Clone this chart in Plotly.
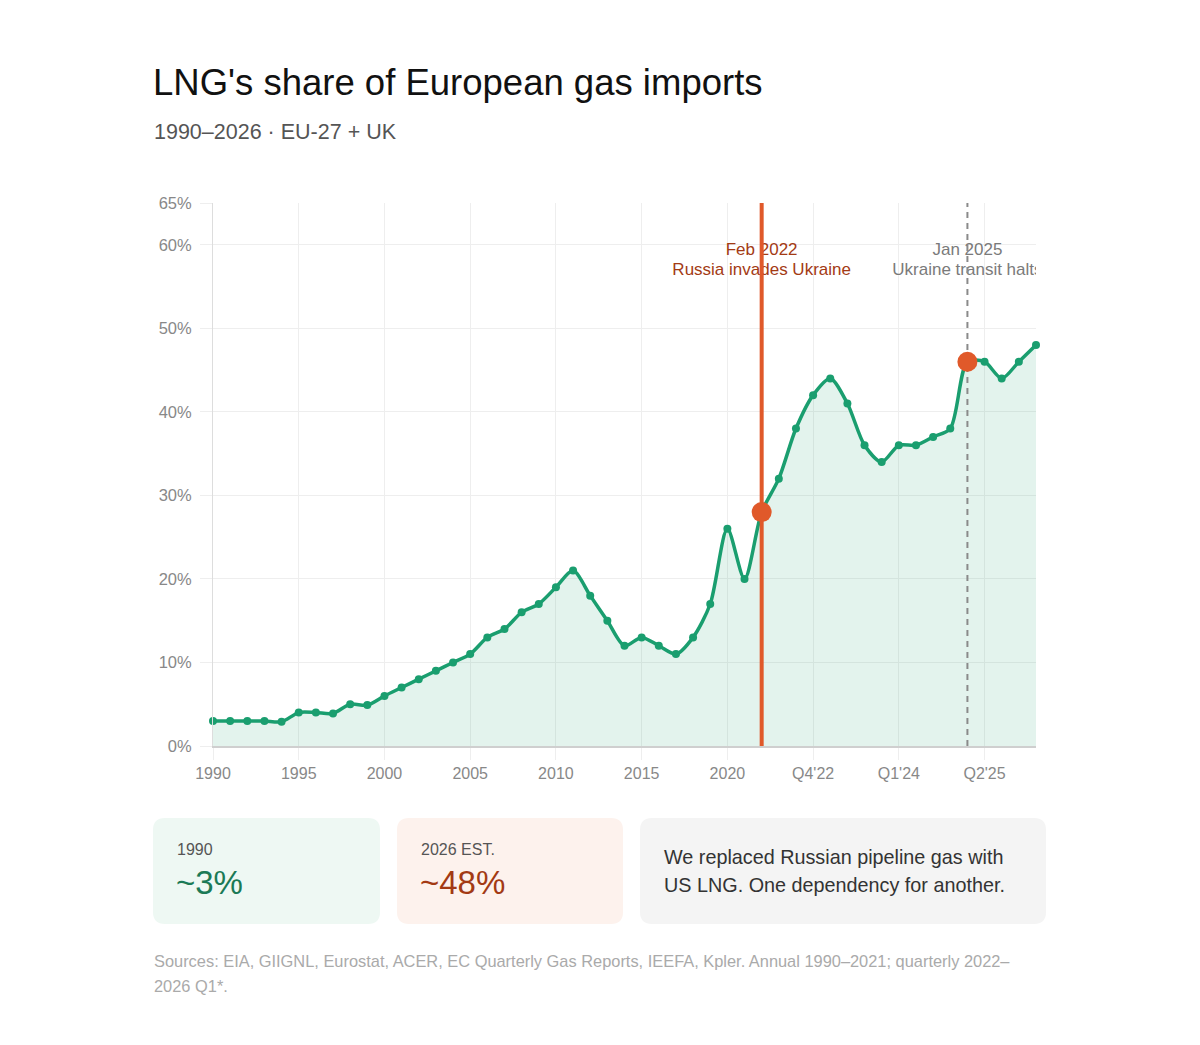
import plotly.graph_objects as go

# ---- data -----------------------------------------------------------------
ANNUAL_YEARS = [str(y) for y in range(1990, 2022)]
QUARTERS = ["Q1'22", "Q2'22", "Q3'22", "Q4'22",
            "Q1'23", "Q2'23", "Q3'23", "Q4'23",
            "Q1'24", "Q2'24", "Q3'24", "Q4'24",
            "Q1'25", "Q2'25", "Q3'25", "Q4'25",
            "Q1'26"]
PERIODS = ANNUAL_YEARS + QUARTERS

# LNG share of EU-27 + UK gas imports, %
SHARE_ANNUAL = [3, 3, 3, 3, 2.9, 4, 4, 3.9, 5, 4.9,
                6, 7, 8, 9, 10, 11, 13, 14, 16, 17,
                19, 21, 18, 15, 12, 13, 12, 11, 13, 17,
                26, 20]
SHARE_QUARTERLY = [28, 32, 38, 42,
                   44, 41, 36, 34,
                   36, 36, 37, 38,
                   46, 46, 44, 46,
                   48]
SHARE = SHARE_ANNUAL + SHARE_QUARTERLY

X_TICKS = ["1990", "1995", "2000", "2005", "2010", "2015", "2020",
           "Q4'22", "Q1'24", "Q2'25"]
Y_TICKS = [0, 10, 20, 30, 40, 50, 60, 65]

EVENT_PERIODS = ["Q1'22", "Q1'25"]
EVENT_DATES = ["Feb 2022", "Jan 2025"]
EVENT_NOTES = ["Russia invades Ukraine", "Ukraine transit halts"]

GREEN = "#1a9e6f"
ORANGE = "#e0592a"
DARK_RED = "#a33a14"
FONT = "Liberation Sans, Arial, Helvetica, sans-serif"

# page is 1200 x 1045, the html body adds an 8px margin
OFF = 8
W, H = 1200 - 2 * OFF, 1045 - 2 * OFF
# plot area in page pixels
PL, PR, PT, PB = 213, 1036, 203, 746


def px_x(p):
    return (p - PL) / (PR - PL)


def px_y(p):
    return (PB - p) / (PB - PT)


def rounded_box(x0, y0, x1, y1, r):
    pts = [
        ("M", [(x0 + r, y0)]), ("L", [(x1 - r, y0)]), ("Q", [(x1, y0), (x1, y0 + r)]),
        ("L", [(x1, y1 - r)]), ("Q", [(x1, y1), (x1 - r, y1)]),
        ("L", [(x0 + r, y1)]), ("Q", [(x0, y1), (x0, y1 - r)]),
        ("L", [(x0, y0 + r)]), ("Q", [(x0, y0), (x0 + r, y0)]),
    ]
    out = []
    for cmd, coords in pts:
        out.append(cmd + " " + " ".join(f"{px_x(a):.5f},{px_y(b):.5f}" for a, b in coords))
    return " ".join(out) + " Z"


fig = go.Figure()

# event labels (drawn first so the event lines sit on top of them)
label_colors = [DARK_RED, "#7a7a7a"]
for period, date, note_text, color in zip(EVENT_PERIODS, EVENT_DATES, EVENT_NOTES, label_colors):
    fig.add_trace(go.Scatter(
        x=[period, period], y=[59.25, 56.85], mode="text", text=[date, note_text],
        textfont=dict(family=FONT, size=17, color=color),
        hoverinfo="skip", cliponaxis=True,
    ))

# main series
fig.add_trace(go.Scatter(
    x=PERIODS, y=SHARE, mode="lines+markers",
    line=dict(color=GREEN, width=3.5, shape="spline", smoothing=0.8),
    marker=dict(color=GREEN, size=8),
    fill="tozeroy", fillcolor="rgba(26,158,111,0.12)",
    hovertemplate="%{x}: %{y}%<extra></extra>",
    cliponaxis=False,
))

# event lines
fig.add_trace(go.Scatter(
    x=[EVENT_PERIODS[0], EVENT_PERIODS[0]], y=[Y_TICKS[0], Y_TICKS[-1]],
    mode="lines", line=dict(color=ORANGE, width=4), hoverinfo="skip",
))
fig.add_trace(go.Scatter(
    x=[EVENT_PERIODS[1], EVENT_PERIODS[1]], y=[Y_TICKS[0], Y_TICKS[-1]],
    mode="lines", line=dict(color="#8a8a8a", width=2, dash="6px,5px"), hoverinfo="skip",
))

# highlighted event points
fig.add_trace(go.Scatter(
    x=EVENT_PERIODS, y=[SHARE[PERIODS.index(p)] for p in EVENT_PERIODS],
    mode="markers", marker=dict(color=ORANGE, size=20),
    hovertemplate="%{x}: %{y}%<extra></extra>", cliponaxis=False,
))

# cards
cards = [
    (153, 380, "#eef8f3"),
    (397, 623, "#fdf2ed"),
    (640, 1046, "#f4f4f4"),
]
shapes = []
for x0, x1, color in cards:
    shapes.append(dict(type="path", xref="paper", yref="paper",
                       path=rounded_box(x0, 818, x1, 924, 12),
                       fillcolor=color, line=dict(width=0), layer="below"))


def note(text, x, y, size, color, xanchor="left"):
    return dict(text=text, x=px_x(x), y=px_y(y), xref="paper", yref="paper",
                xanchor=xanchor, yanchor="middle", showarrow=False, align="left",
                font=dict(family=FONT, size=size, color=color))


annotations = [
    note("LNG's share of European gas imports", 151, 82, 36.5, "#111111"),
    note("1990–2026 · EU-27 + UK", 152, 132, 21.5, "#555555"),
    note("1990", 175, 849, 16, "#555555"),
    note("~3%", 174, 882, 33, "#1b7a56"),
    note("2026 EST.", 419, 849, 16, "#555555"),
    note("~48%", 418, 882, 33, DARK_RED),
    note("We replaced Russian pipeline gas with", 662, 857, 19.8, "#333333"),
    note("US LNG. One dependency for another.", 662, 885, 19.8, "#333333"),
    note("Sources: EIA, GIIGNL, Eurostat, ACER, EC Quarterly Gas Reports, IEEFA, Kpler. "
         "Annual 1990–2021; quarterly 2022–", 152, 961, 16.4, "#aaaaaa"),
    note("2026 Q1*.", 152, 986, 16.4, "#aaaaaa"),
]

fig.update_layout(
    width=W, height=H,
    margin=dict(l=PL - OFF, r=W - (PR - OFF), t=PT - OFF, b=H - (PB - OFF)),
    paper_bgcolor="white", plot_bgcolor="white",
    showlegend=False,
    font=dict(family=FONT, size=16, color="#888888"),
    shapes=shapes, annotations=annotations,
    xaxis=dict(
        type="category", categoryorder="array", categoryarray=PERIODS,
        range=[0, len(PERIODS) - 1],
        tickmode="array", tickvals=X_TICKS, ticktext=X_TICKS,
        showgrid=True, gridcolor="#eeeeee", gridwidth=1,
        showline=True, linecolor="#cfcfcf", linewidth=1.5,
        ticks="outside", ticklen=12, tickcolor="#eeeeee",
        tickfont=dict(size=16, color="#888888"),
        zeroline=False, fixedrange=True,
    ),
    yaxis=dict(
        range=[Y_TICKS[0], Y_TICKS[-1]],
        tickmode="array", tickvals=Y_TICKS, ticktext=[f"{v}%" for v in Y_TICKS],
        showgrid=True, gridcolor="#eeeeee", gridwidth=1,
        showline=True, linecolor="#dddddd", linewidth=1,
        ticks="outside", ticklen=12, tickcolor="#eeeeee",
        tickfont=dict(size=16.5, color="#888888"),
        ticklabelstandoff=5,
        zeroline=False, fixedrange=True,
    ),
)

fig.write_html("out.html")
